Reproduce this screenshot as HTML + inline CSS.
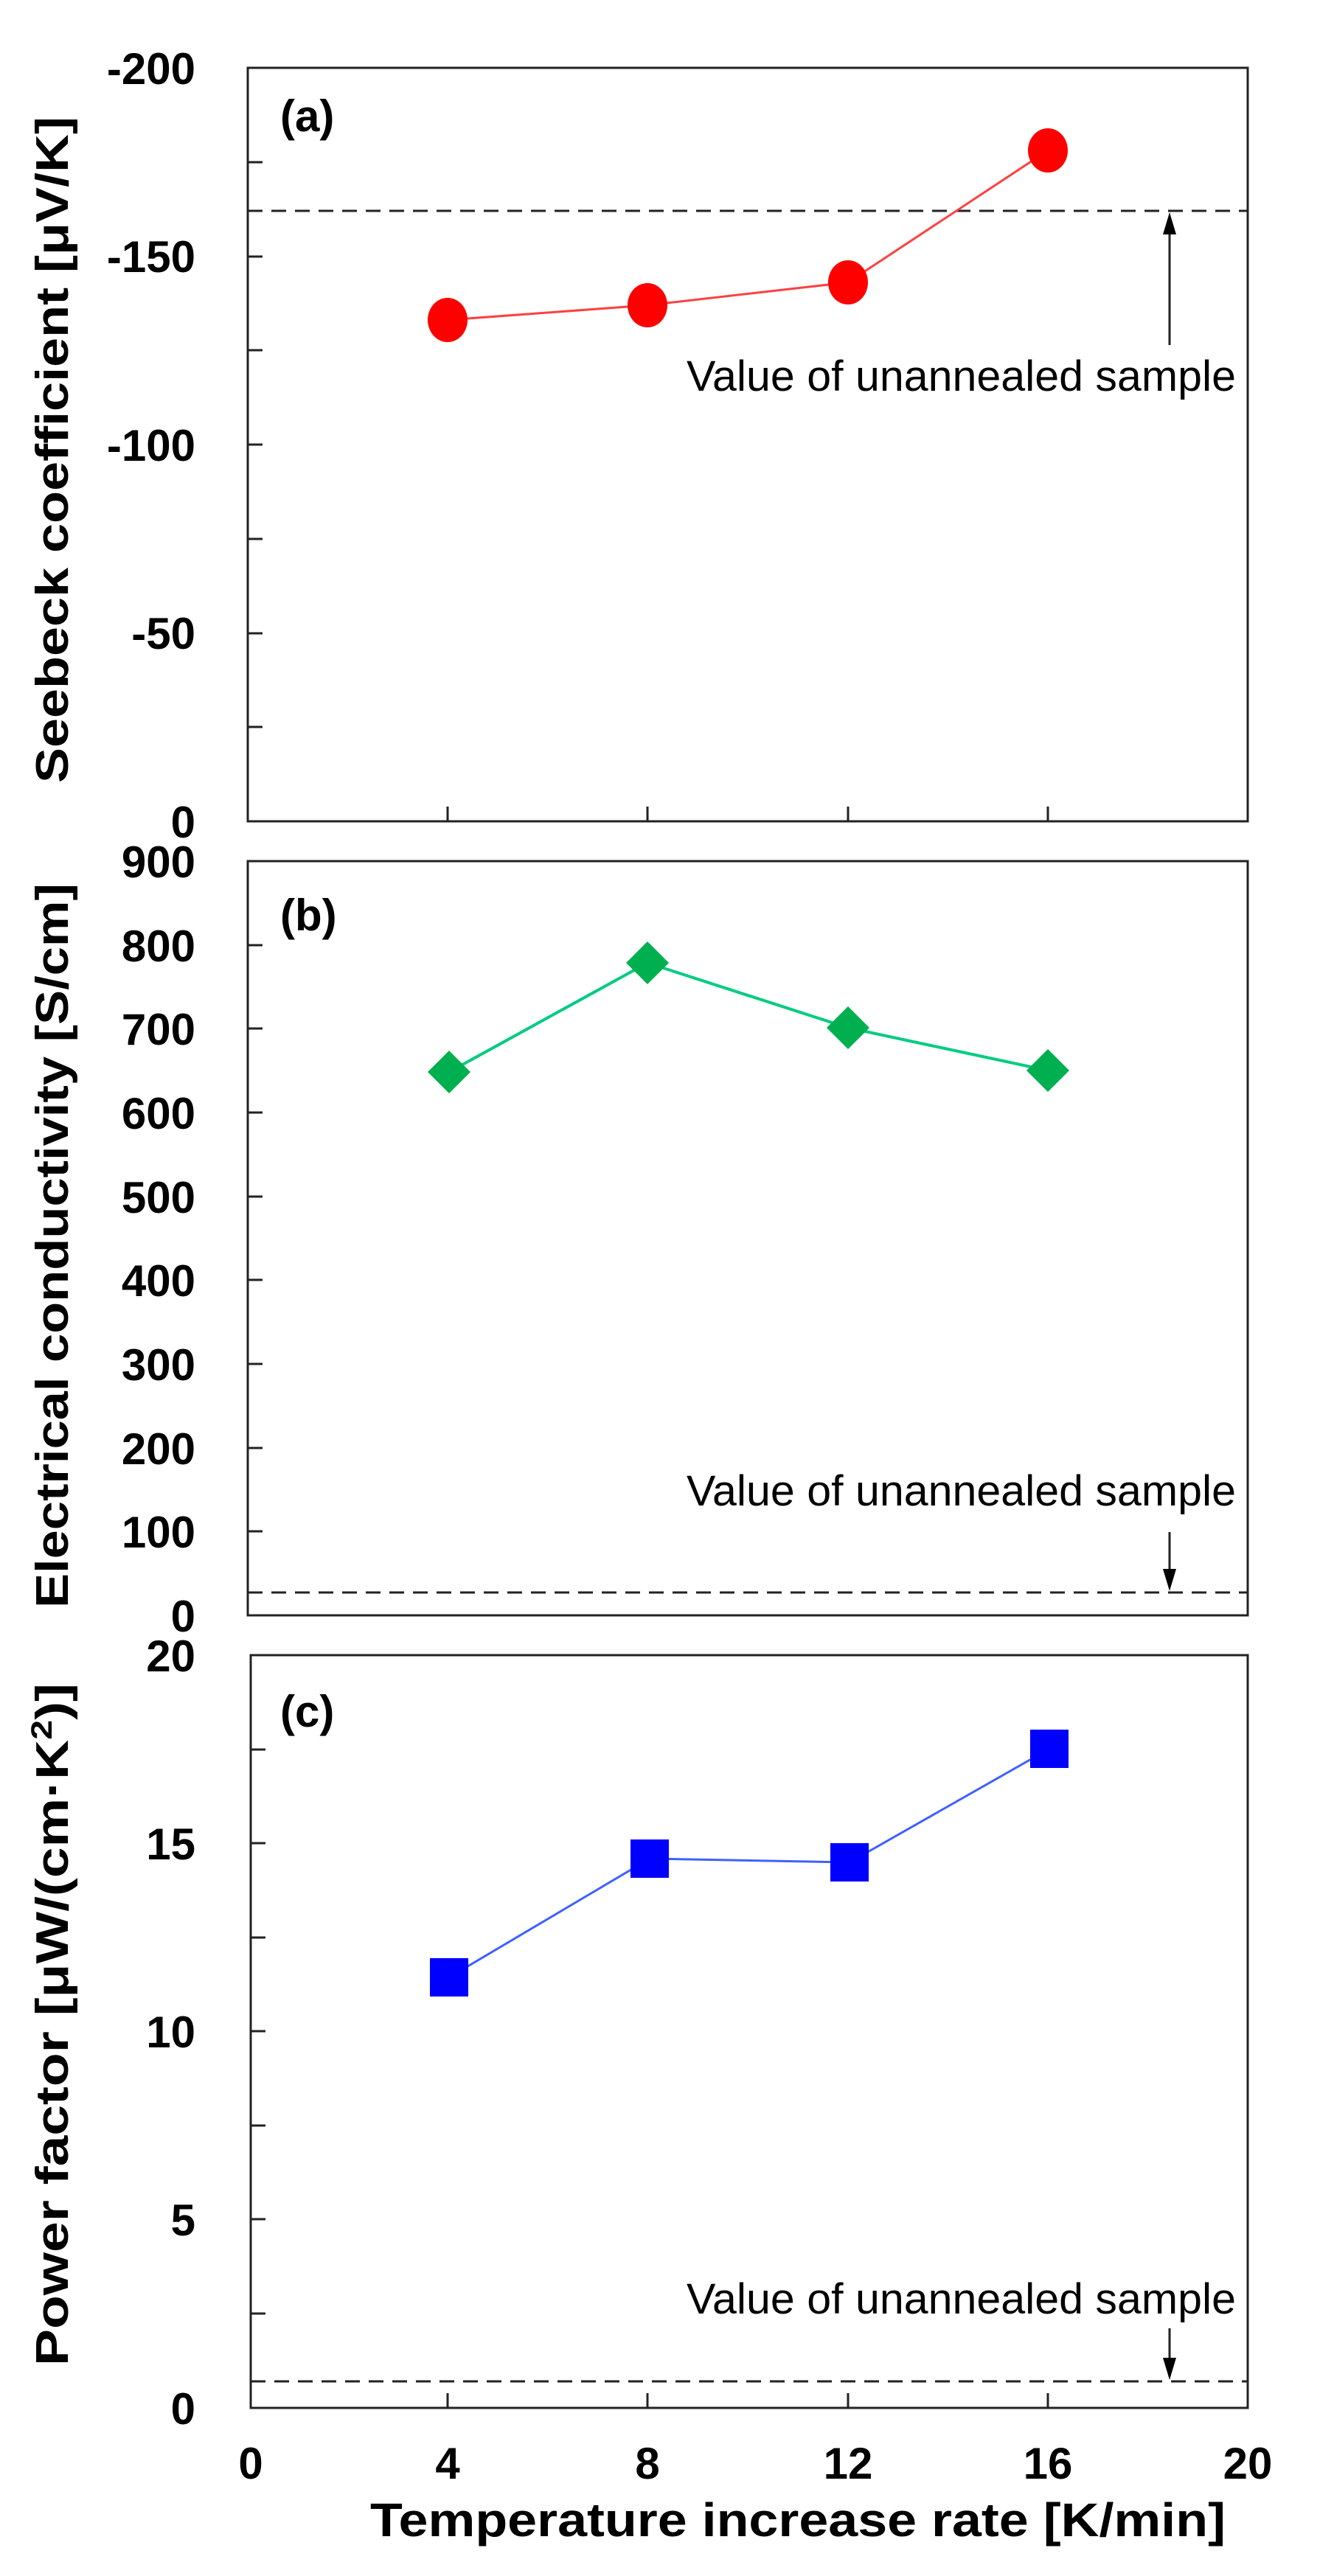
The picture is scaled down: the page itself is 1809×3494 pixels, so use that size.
<!DOCTYPE html>
<html><head><meta charset="utf-8"><style>
html,body{margin:0;padding:0;background:#fff;}
svg{display:block;}
.t{font-family:"Liberation Sans",Arial,sans-serif;font-weight:bold;font-size:60px;fill:#000;}
.yl{font-family:"Liberation Sans",Arial,sans-serif;font-weight:bold;font-size:62px;fill:#000;}
.n{font-family:"Liberation Sans Narrow","Liberation Sans",Arial,sans-serif;font-size:58px;fill:#000;}
.nb{font-family:"Liberation Sans Narrow","Liberation Sans",Arial,sans-serif;font-weight:bold;font-size:60px;fill:#000;}
</style></head><body>
<svg width="1809" height="3494" viewBox="0 0 1809 3494" xmlns="http://www.w3.org/2000/svg">
<g fill="none" stroke="#222" stroke-width="3">
<rect x="336" y="92" width="1356" height="1022"/>
<rect x="336" y="1168" width="1356" height="1023"/>
<rect x="340" y="2245" width="1352" height="1021"/>
<!-- x ticks -->
<path d="M607 1114v-20M878 1114v-20M1150 1114v-20M1421 1114v-20"/>
<path d="M607 3266v-20M878 3266v-20M1150 3266v-20M1421 3266v-20"/>
<!-- a y ticks every 25 -->
<path d="M336 220h20M336 348h20M336 475h20M336 603h20M336 731h20M336 859h20M336 986h20"/>
<!-- b y ticks every 100 -->
<path d="M336 2077h20M336 1964h20M336 1850h20M336 1736h20M336 1623h20M336 1509h20M336 1395h20M336 1282h20"/>
<!-- c y ticks every 2.5 -->
<path d="M340 3138h20M340 3010h20M340 2883h20M340 2755h20M340 2628h20M340 2500h20M340 2373h20"/>
</g>
<!-- dashed lines -->
<g stroke="#222" stroke-width="3" stroke-dasharray="20,12">
<line x1="336" y1="286" x2="1692" y2="286"/>
<line x1="336" y1="2160" x2="1692" y2="2160"/>
<line x1="340" y1="3230" x2="1692" y2="3230"/>
</g>
<!-- arrows -->
<g stroke="#222" stroke-width="3">
<line x1="1586" y1="468" x2="1586" y2="315"/>
<line x1="1586" y1="2078" x2="1586" y2="2132"/>
<line x1="1586" y1="3158" x2="1586" y2="3202"/>
</g>
<g fill="#000">
<polygon points="1586,288 1577,318 1595,318"/>
<polygon points="1586,2158 1577,2128 1595,2128"/>
<polygon points="1586,3228 1577,3198 1595,3198"/>
</g>
<text class="n" x="931" y="530" textLength="745" lengthAdjust="spacingAndGlyphs">Value of unannealed  sample</text>
<text class="n" x="931" y="2042" textLength="745" lengthAdjust="spacingAndGlyphs">Value of unannealed  sample</text>
<text class="n" x="931" y="3138" textLength="745" lengthAdjust="spacingAndGlyphs">Value of unannealed  sample</text>
<!-- series a -->
<polyline points="607,434 878,414 1150,383 1421,204" fill="none" stroke="#ff4040" stroke-width="3"/>
<g fill="#ff0000">
<ellipse cx="607" cy="434" rx="27" ry="30"/>
<ellipse cx="878" cy="414" rx="27" ry="30"/>
<ellipse cx="1150" cy="383" rx="27" ry="30"/>
<ellipse cx="1421" cy="204" rx="27" ry="30"/>
</g>
<!-- series b -->
<polyline points="609,1454 878,1306 1150,1394 1421,1452" fill="none" stroke="#00cc80" stroke-width="4"/>
<g fill="#00b050">
<polygon points="609,1425 638,1454 609,1483 580,1454"/>
<polygon points="878,1277 907,1306 878,1335 849,1306"/>
<polygon points="1150,1365 1179,1394 1150,1423 1121,1394"/>
<polygon points="1421,1423 1450,1452 1421,1481 1392,1452"/>
</g>
<!-- series c -->
<polyline points="609,2682 881,2521 1152,2526 1423,2372" fill="none" stroke="#4060ff" stroke-width="3"/>
<g fill="#0000ff">
<rect x="583" y="2656" width="52" height="52"/>
<rect x="855" y="2495" width="52" height="52"/>
<rect x="1126" y="2500" width="52" height="52"/>
<rect x="1397" y="2346" width="52" height="52"/>
</g>
<!-- panel labels -->
<text class="nb" x="380" y="178">(a)</text>
<text class="nb" x="380" y="1262">(b)</text>
<text class="nb" x="380" y="2342">(c)</text>
<!-- a tick labels -->
<g class="t" text-anchor="end">
<text x="265" y="114">-200</text>
<text x="265" y="369">-150</text>
<text x="265" y="625">-100</text>
<text x="265" y="880">-50</text>
<text x="265" y="1136">0</text>
<text x="265" y="1190">900</text>
<text x="265" y="1304">800</text>
<text x="265" y="1417">700</text>
<text x="265" y="1531">600</text>
<text x="265" y="1645">500</text>
<text x="265" y="1758">400</text>
<text x="265" y="1872">300</text>
<text x="265" y="1986">200</text>
<text x="265" y="2099">100</text>
<text x="265" y="2213">0</text>
<text x="265" y="2267">20</text>
<text x="265" y="2522">15</text>
<text x="265" y="2777">10</text>
<text x="265" y="3032">5</text>
<text x="265" y="3288">0</text>
</g>
<g class="t" text-anchor="middle">
<text x="340" y="3362">0</text>
<text x="607" y="3362">4</text>
<text x="878" y="3362">8</text>
<text x="1150" y="3362">12</text>
<text x="1421" y="3362">16</text>
<text x="1692" y="3362">20</text>
</g>
<text class="nb" x="502" y="3440" textLength="1160" lengthAdjust="spacingAndGlyphs" style="font-size:64px">Temperature  increase rate [K/min]</text>
<!-- y labels -->
<text class="yl" transform="translate(92,1062) rotate(-90)" textLength="904" lengthAdjust="spacingAndGlyphs">Seebeck coefficient [μV/K]</text>
<text class="yl" transform="translate(92,2181) rotate(-90)" textLength="983" lengthAdjust="spacingAndGlyphs">Electrical conductivity [S/cm]</text>
<text class="yl" transform="translate(92,3209) rotate(-90)" textLength="926" lengthAdjust="spacingAndGlyphs">Power factor [μW/(cm·K<tspan dy="-22" style="font-size:40px">2</tspan><tspan dy="22">)]</tspan></text>
</svg>
</body></html>
